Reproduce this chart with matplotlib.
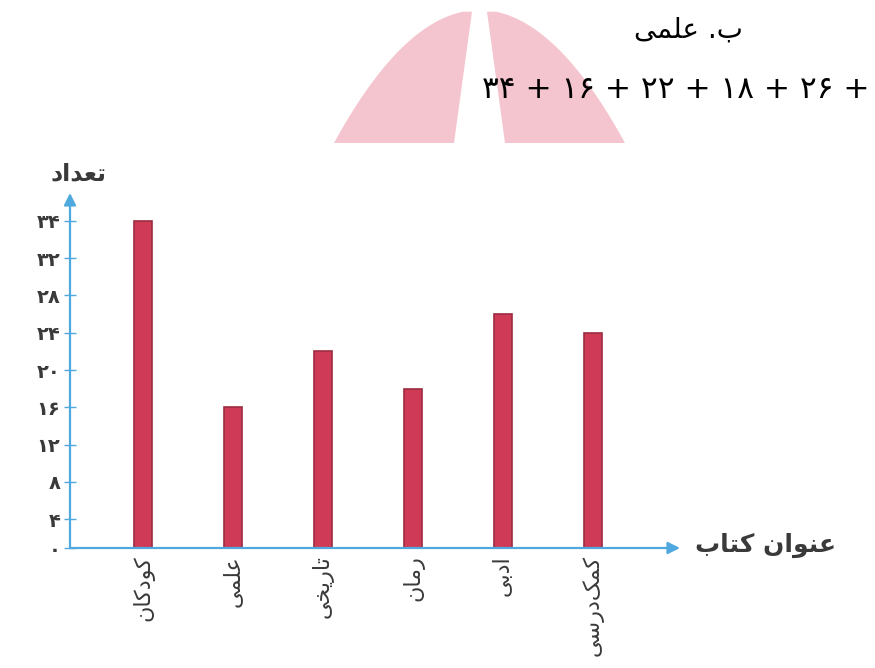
import numpy as np
import matplotlib
matplotlib.use("Agg")
import matplotlib.pyplot as plt

# Data: number of books per title
BOOK_TITLES = ["کودکان", "علمی", "تاریخی", "رمان", "ادبی", "کمک\u200cدرسی"]
BOOK_COUNTS = [34, 16, 22, 18, 26, 24]
Y_TICKS = [0, 4, 8, 12, 16, 20, 24, 28, 32, 34]

Y_LABEL = "تعداد"
X_LABEL = "عنوان کتاب"
HEADING = "ب. علمی"
SUM_LINE = "۳۴ + ۱۶ + ۲۲ + ۱۸ + ۲۶ +"

# Colours
AXIS_BLUE = "#4fa8de"
BAR_FACE = "#cf3a56"
BAR_EDGE = "#9c2d42"
PINK = "#f5c5cf"
TEXT_GREY = "#3a3a3a"

W, H = 875, 668

# matplotlib does no arabic shaping, so pick presentation forms by hand
# (isolated, final, initial, medial); None = letter never joins forward
FORMS = {
    "ا": ("\uFE8D", "\uFE8E", None, None),
    "ب": ("\uFE8F", "\uFE90", "\uFE91", "\uFE92"),
    "ت": ("\uFE95", "\uFE96", "\uFE97", "\uFE98"),
    "خ": ("\uFEA5", "\uFEA6", "\uFEA7", "\uFEA8"),
    "د": ("\uFEA9", "\uFEAA", None, None),
    "ر": ("\uFEAD", "\uFEAE", None, None),
    "س": ("\uFEB1", "\uFEB2", "\uFEB3", "\uFEB4"),
    "ع": ("\uFEC9", "\uFECA", "\uFECB", "\uFECC"),
    "ل": ("\uFEDD", "\uFEDE", "\uFEDF", "\uFEE0"),
    "م": ("\uFEE1", "\uFEE2", "\uFEE3", "\uFEE4"),
    "ن": ("\uFEE5", "\uFEE6", "\uFEE7", "\uFEE8"),
    "و": ("\uFEED", "\uFEEE", None, None),
    "ک": ("\uFB8E", "\uFB8F", "\uFB90", "\uFB91"),
    "ی": ("\uFBFC", "\uFBFD", "\uFBFE", "\uFBFF"),
}


def shape(text):
    out = []
    for i, ch in enumerate(text):
        if ch not in FORMS:
            if ch != "\u200c":  # zwnj only breaks the join
                out.append(ch)
            continue
        prev = text[i - 1] if i > 0 else ""
        nxt = text[i + 1] if i + 1 < len(text) else ""
        join_prev = prev in FORMS and FORMS[prev][2] is not None
        join_next = nxt in FORMS and FORMS[ch][2] is not None
        iso, fin, ini, med = FORMS[ch]
        if join_prev and join_next:
            out.append(med)
        elif join_prev:
            out.append(fin)
        elif join_next:
            out.append(ini)
        else:
            out.append(iso)
    return "".join(out)[::-1]  # visual order, right to left


def fa_digits(n):
    return str(n).translate(str.maketrans("0123456789", "۰۱۲۳۴۵۶۷۸۹"))


plt.rcParams["font.family"] = ["DejaVu Sans"]

fig = plt.figure(figsize=(W / 100, H / 100), dpi=100)

# decoration layer in pixel coordinates (pink shape behind the heading)
deco = fig.add_axes([0, 0, 1, 1], zorder=0)
deco.set_xlim(0, W)
deco.set_ylim(H, 0)
deco.axis("off")

xc, half, y_apex, y_base, y_cut = 479.5, 145.5, 10.0, 143.0, 11.7
def arch(x):
    return np.maximum(y_apex + (y_base - y_apex) * ((x - xc) / half) ** 2, y_cut)

xl = np.linspace(xc - half, 472, 80)
deco.fill(np.r_[xl, 454], np.r_[arch(xl), y_base], color=PINK, lw=0)
xr = np.linspace(xc + half, 487, 80)
deco.fill(np.r_[505, xr], np.r_[y_base, arch(xr)], color=PINK, lw=0)

fig.text(688 / W, 1 - 30 / H, shape(HEADING), ha="center", va="center",
         fontsize=20, color="black")
fig.text(870 / W, 1 - 89 / H, SUM_LINE, ha="right", va="center",
         fontsize=22.5, color="black")

# main chart
left, right, base, top = 70, 680, 548, 193
ax = fig.add_axes([left / W, 1 - base / H, (right - left) / W, (base - top) / H],
                  zorder=1)
ax.patch.set_alpha(0)

# the printed axis puts 34 a full step above 32 and squeezes 0..4
KX = [-100, 0, 4, 32, 34, 100]
KY = [-76.6, 0.9, 4, 32, 36, 102]
ax.set_yscale("function", functions=(lambda v: np.interp(v, KX, KY),
                                     lambda f: np.interp(f, KY, KX)))

x = np.arange(len(BOOK_TITLES))
ax.bar(x, BOOK_COUNTS, width=0.21, color=BAR_FACE, edgecolor=BAR_EDGE, linewidth=1.2)

ax.set_xlim(-0.811, -0.811 + (right - left) / 90)
ax.set_ylim(0, 37)

for s in ax.spines.values():
    s.set_visible(False)
ax.annotate("", xy=(0, 1), xytext=(0, 0), xycoords="axes fraction",
            arrowprops=dict(arrowstyle="-|>", color=AXIS_BLUE, lw=1.6,
                            mutation_scale=18, shrinkA=0, shrinkB=0))
ax.annotate("", xy=(1, 0), xytext=(0, 0), xycoords="axes fraction",
            arrowprops=dict(arrowstyle="-|>", color=AXIS_BLUE, lw=1.6,
                            mutation_scale=18, shrinkA=0, shrinkB=0))

ax.set_yticks(Y_TICKS, [fa_digits(v) for v in Y_TICKS])
ax.tick_params(axis="y", direction="inout", length=8, width=1, color=AXIS_BLUE,
               labelsize=14, labelcolor=TEXT_GREY, pad=3)
for lbl in ax.get_yticklabels():
    lbl.set_fontweight("bold")

ax.set_xticks(x, [shape(t) for t in BOOK_TITLES], rotation=90)
ax.tick_params(axis="x", length=0, labelsize=16, labelcolor=TEXT_GREY, pad=5)

fig.text(78 / W, 1 - 173 / H, shape(Y_LABEL), ha="center", va="center",
         fontsize=17, fontweight="bold", color=TEXT_GREY)
fig.text(695 / W, 1 - 545 / H, shape(X_LABEL), ha="left", va="center",
         fontsize=18, fontweight="bold", color=TEXT_GREY)

fig.savefig("out.png", dpi=100, facecolor="white")
